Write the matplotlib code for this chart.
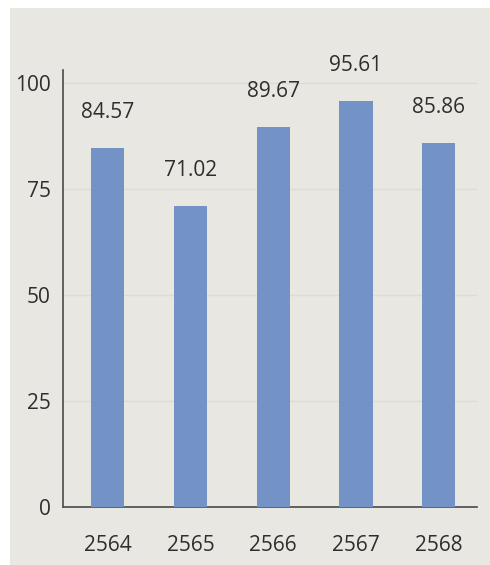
import matplotlib.pyplot as plt
from matplotlib.patches import Rectangle

years = ['2564', '2565', '2566', '2567', '2568']
values = [84.57, 71.02, 89.67, 95.61, 85.86]
yticks = [0, 25, 50, 75, 100]

bg = '#e9e7e2'
bar_color = '#7393c6'
text_color = '#2e2e2e'

plt.rcParams['font.family'] = ['Open Sans', 'DejaVu Sans']

fig = plt.figure(figsize=(4.9, 5.65), dpi=100, facecolor=bg)
# white photo border along top and left edges
fig.patches.append(Rectangle((0, 0.986), 1, 0.014, transform=fig.transFigure,
                             facecolor='white', edgecolor='none'))
fig.patches.append(Rectangle((0, 0), 0.02, 1, transform=fig.transFigure,
                             facecolor='white', edgecolor='none'))

ax = fig.add_axes([0.129, 0.103, 0.844, 0.773])
ax.set_facecolor(bg)

x = range(len(years))
bars = ax.bar(x, values, width=0.4, color=bar_color, zorder=3)

for xi, v in zip(x, values):
    ax.annotate(f'{v:.2f}', (xi, v), xytext=(0, 18), textcoords='offset points',
                ha='center', va='bottom', fontsize=15, color=text_color)

ax.set_xlim(-0.54, 4.46)
ax.set_ylim(0, 103)
ax.set_yticks(yticks)
ax.set_yticklabels([str(t) for t in yticks])
ax.set_xticks(list(x))
ax.set_xticklabels(years)
ax.tick_params(axis='y', length=0, pad=9, labelsize=15, labelcolor=text_color)
ax.tick_params(axis='x', length=0, pad=20, labelsize=15, labelcolor=text_color)

ax.grid(axis='y', color='#dddbd6', linewidth=1, zorder=0)
ax.spines['top'].set_visible(False)
ax.spines['right'].set_visible(False)
ax.spines['left'].set_color('#4a4a4a')
ax.spines['bottom'].set_color('#4a4a4a')
ax.spines['left'].set_linewidth(1.2)
ax.spines['bottom'].set_linewidth(1.2)

fig.savefig('out.png', dpi=100, facecolor=bg)
